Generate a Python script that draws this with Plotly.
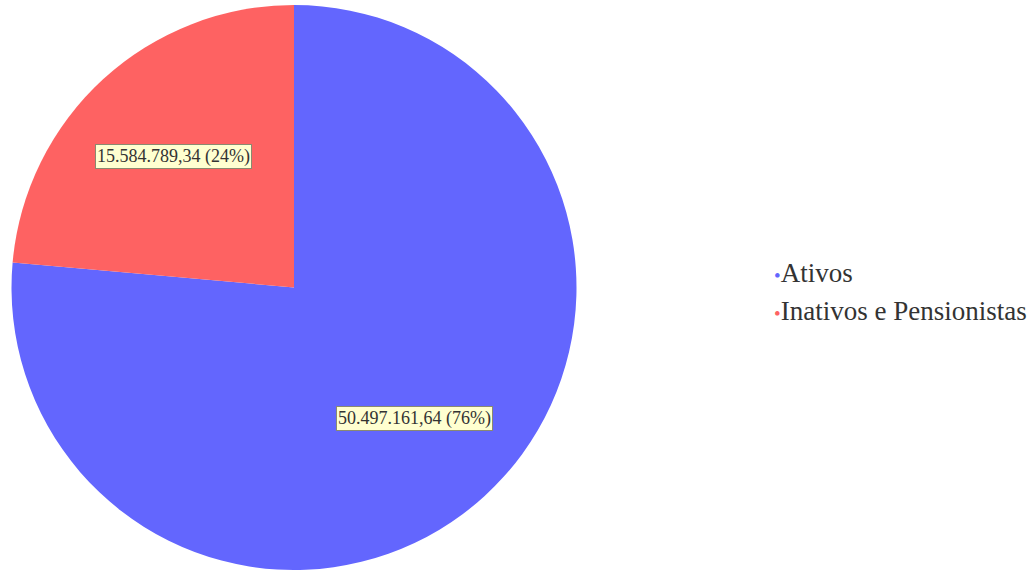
import math
import plotly.graph_objects as go

labels = ["Ativos", "Inativos e Pensionistas"]
values = [50497161.64, 15584789.34]
colors = ["#6366FE", "#FE6262"]

W, H = 1036, 570
M_T, M_B = 5, 0
CX_PX = 294


def fmt_br(v):
    s = f"{v:,.2f}"
    return s.replace(",", "X").replace(".", ",").replace("X", ".")


fig = go.Figure(
    go.Pie(
        labels=labels,
        values=values,
        marker=dict(colors=colors, line=dict(width=0)),
        sort=False,
        direction="clockwise",
        rotation=0,
        textinfo="none",
        hoverinfo="label+value+percent",
        showlegend=False,
        domain=dict(x=[0, 2 * CX_PX / W], y=[0, 1]),
    )
)

# value labels placed along each slice's mid-angle
plot_h = H - M_T - M_B
radius = plot_h / 2
total = sum(values)
start = 0.0
annotations = []
for lab, v in zip(labels, values):
    frac = v / total
    mid = (start + frac / 2) * 2 * math.pi
    start += frac
    dx = math.sin(mid) * radius * 0.63
    dy = math.cos(mid) * radius * 0.63
    annotations.append(
        dict(
            x=CX_PX / W,
            y=0.5,
            xref="paper",
            yref="paper",
            xanchor="center",
            yanchor="middle",
            xshift=dx,
            yshift=dy,
            text=f"{fmt_br(v)} ({round(frac * 100)}%)",
            showarrow=False,
            font=dict(family="Liberation Serif", size=18, color="#333333"),
            bgcolor="#FFFFD0",
            bordercolor="#8a8a70",
            borderwidth=1,
            borderpad=1,
        )
    )

# legend entries
legend_y = [273, 311]
for lab, col, ly in zip(labels, colors, legend_y):
    annotations.append(
        dict(
            x=772 / W,
            y=1 - (ly - M_T) / plot_h,
            xref="paper",
            yref="paper",
            xanchor="left",
            yanchor="middle",
            text=f"<span style='color:{col};font-size:19px'>•</span>{lab}",
            showarrow=False,
            font=dict(family="Liberation Serif", size=27, color="#333333"),
        )
    )

fig.update_layout(
    width=W,
    height=H,
    margin=dict(l=0, r=0, t=M_T, b=M_B),
    paper_bgcolor="white",
    plot_bgcolor="white",
    annotations=annotations,
)

fig.write_html("out.html")
